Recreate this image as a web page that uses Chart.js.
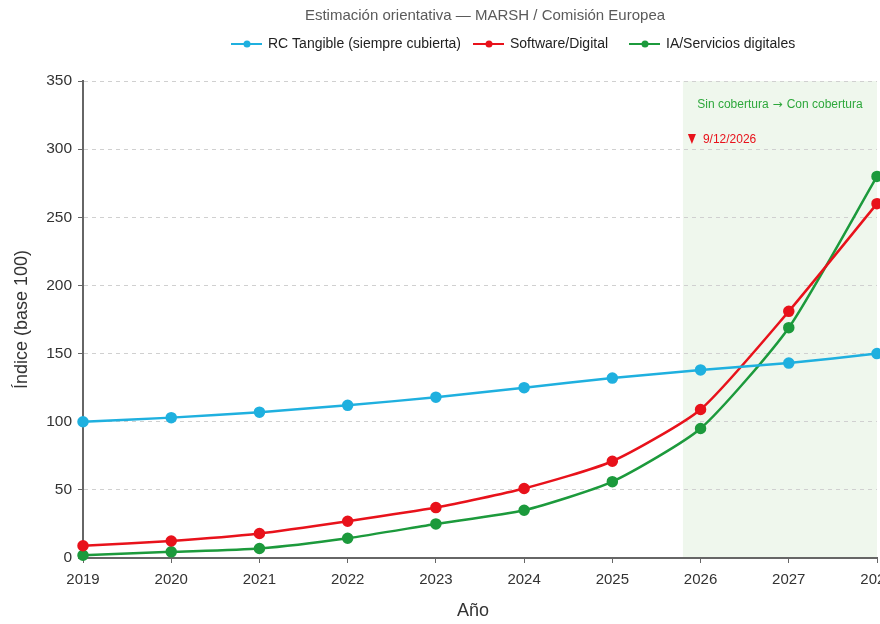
<!DOCTYPE html>
<html><head><meta charset="utf-8">
<script src="https://cdn.jsdelivr.net/npm/chart.js@4.4.1/dist/chart.umd.min.js"></script>
<style>html,body{margin:0;padding:0;background:#fff}canvas{display:block}</style>
</head><body>
<canvas id="c" width="880" height="624"></canvas>
<script>
const years = [2019, 2020, 2021, 2022, 2023, 2024, 2025, 2026, 2027, 2028];
const rcTangible = [100, 103, 107, 112, 118, 125, 132, 138, 143, 150];
const software = [9, 12.5, 18, 27, 37, 51, 71, 109, 181, 260];
const iaServicios = [2, 4.5, 7, 14.5, 25, 35, 56, 95, 169, 280];
const seriesNames = ['RC Tangible (siempre cubierta)', 'Software/Digital', 'IA/Servicios digitales'];
const yTicks = [0, 50, 100, 150, 200, 250, 300, 350];
const shadeFrom = 2025.8, shadeTo = 2028;
const title = 'Estimación orientativa — MARSH / Comisión Europea';
const noteTop = ['Sin cobertura', '\u2192', 'Con cobertura'];
const noteDate = '9/12/2026';

const FONT = '"Liberation Sans", Arial, sans-serif';
const colors = ['#1fb0df', '#e8121b', '#1c9a3c'];
const series = [rcTangible, software, iaServicios];

const overlay = {
  id: 'overlay',
  beforeDraw(chart) {
    const {ctx, chartArea: a, scales: {x}} = chart;
    ctx.save();
    ctx.fillStyle = 'rgba(120,190,110,0.12)';
    const x0 = x.getPixelForValue(shadeFrom), x1 = x.getPixelForValue(shadeTo);
    ctx.fillRect(x0, a.top, x1 - x0, a.bottom - a.top);
    ctx.restore();
  },
  afterDraw(chart) {
    const {ctx, chartArea: a, scales: {x}} = chart;
    ctx.save();
    // title
    ctx.fillStyle = '#5a5a5a';
    ctx.font = '15px ' + FONT;
    ctx.textAlign = 'center'; ctx.textBaseline = 'middle';
    ctx.fillText(title, 485, 16);
    // legend
    ctx.font = '14px ' + FONT;
    ctx.textAlign = 'left';
    const legendX = [231, 473, 629];
    seriesNames.forEach((n, i) => {
      const lx = legendX[i], ly = 44;
      ctx.strokeStyle = colors[i]; ctx.lineWidth = 2;
      ctx.beginPath(); ctx.moveTo(lx, ly); ctx.lineTo(lx + 31, ly); ctx.stroke();
      ctx.fillStyle = colors[i];
      ctx.beginPath(); ctx.arc(lx + 16, ly, 3.5, 0, Math.PI * 2); ctx.fill();
      ctx.fillStyle = '#222';
      ctx.fillText(n, lx + 37, ly);
    });
    // axis titles
    ctx.fillStyle = '#333';
    ctx.font = '18px ' + FONT;
    ctx.textAlign = 'center';
    ctx.fillText('Año', 473, 611);
    ctx.save();
    ctx.translate(22, (a.top + a.bottom) / 2);
    ctx.rotate(-Math.PI / 2);
    ctx.fillText('Índice (base 100)', 0, 0);
    ctx.restore();
    // annotations
    ctx.fillStyle = '#2ea83c';
    ctx.textAlign = 'left';
    const fonts = ['12px ' + FONT, '12px "DejaVu Sans", sans-serif', '12px ' + FONT];
    const widths = noteTop.map((t, i) => { ctx.font = fonts[i]; return ctx.measureText(t).width; });
    const gap = 4;
    const total = widths.reduce((p, c) => p + c, 0) + gap * 2;
    let cx = (x.getPixelForValue(shadeFrom) + a.right) / 2 - total / 2;
    noteTop.forEach((t, i) => { ctx.font = fonts[i]; ctx.fillText(t, cx, 105); cx += widths[i] + gap; });
    ctx.font = '12px ' + FONT;
    ctx.fillStyle = '#e8121b';
    const tx = x.getPixelForValue(shadeFrom) + 9;
    ctx.beginPath(); ctx.moveTo(tx - 4, 134); ctx.lineTo(tx + 4, 134); ctx.lineTo(tx, 144); ctx.closePath(); ctx.fill();
    ctx.fillText(noteDate, tx + 11, 140);
    ctx.restore();
  }
};

new Chart(document.getElementById('c'), {
  type: 'line',
  data: {
    datasets: series.map((s, i) => ({
      label: seriesNames[i],
      data: years.map((yr, k) => ({x: yr, y: s[k]})),
      borderColor: colors[i],
      backgroundColor: colors[i],
      borderWidth: 2.5,
      pointRadius: 4.5,
      pointHoverRadius: 4.5,
      tension: 0.2,
      clip: false
    }))
  },
  options: {
    responsive: false,
    animation: false,
    events: [],
    layout: {autoPadding: false, padding: {top: 81, right: 3, left: 0, bottom: 0}},
    plugins: {legend: {display: false}, title: {display: false}, tooltip: {enabled: false}},
    scales: {
      x: {
        type: 'linear', min: 2019, max: 2028,
        afterBuildTicks(s) { s.ticks = years.map(v => ({value: v})); },
        afterFit(s) { s.height = 66; s.paddingLeft = 0; s.paddingRight = 0; },
        ticks: {color: '#333', font: {family: FONT, size: 15}, padding: 8, maxRotation: 0, callback: v => String(v)},
        grid: {drawOnChartArea: false, drawTicks: true, tickLength: 5, tickColor: '#666'},
        border: {color: '#666', width: 2}
      },
      y: {
        min: 0, max: 350,
        afterBuildTicks(s) { s.ticks = yTicks.map(v => ({value: v})); },
        afterFit(s) { s.width = 83; s.paddingTop = 0; s.paddingBottom = 0; },
        ticks: {color: '#333', font: {family: FONT, size: 15.5}, padding: 6},
        grid: {color: '#d0d0d0', lineWidth: 1, tickLength: 5, tickColor: '#666', tickBorderDash: [0, 0]},
        border: {color: '#666', width: 2, dash: [4, 4]}
      }
    }
  },
  plugins: [overlay]
});
</script>
</body></html>
